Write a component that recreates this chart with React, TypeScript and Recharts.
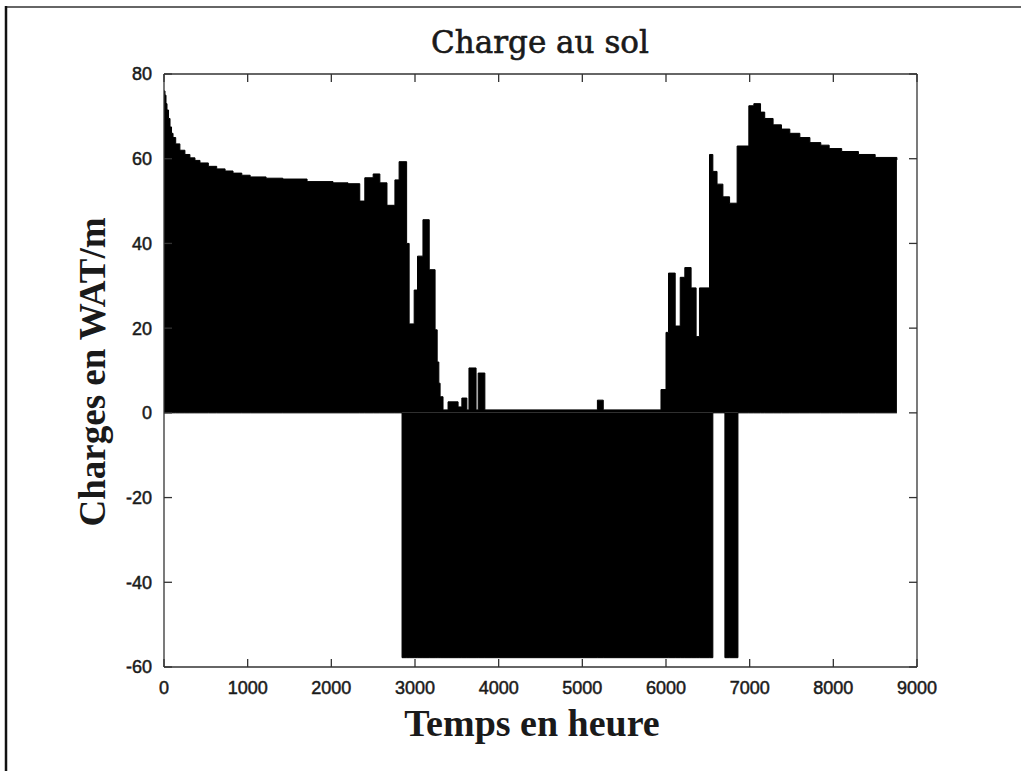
import React from 'react';
import { ComposedChart, Area, XAxis, YAxis } from 'recharts';

// Upper envelope (positive loads) — step breakpoints in hours
const posHours = [
  0, 12, 24, 36, 54, 72, 90, 108, 140, 190, 250, 310, 370, 430, 530, 630, 730, 825, 930, 1030,
  1220, 1420, 1710, 2020, 2200, 2340, 2400, 2500, 2580, 2665, 2760, 2810, 2900, 2930, 2990,
  3030, 3095, 3170, 3240, 3265, 3285, 3300, 3335, 3395, 3515, 3560, 3620, 3645, 3730, 3755,
  3835, 5180, 5250, 5940, 6000, 6030, 6110, 6170, 6225, 6300, 6360, 6400, 6520, 6560, 6610,
  6680, 6760, 6850, 6990, 7050, 7130, 7180, 7280, 7380, 7480, 7600, 7720, 7850, 7950, 8100,
  8300, 8500, 8760,
];
const posLoad = [
  76, 75, 73, 71.5, 69.5, 67.5, 66, 65, 63.5, 62, 61, 60.2, 59.6, 59, 58.2, 57.6, 57.1, 56.6, 56.1, 55.7,
  55.4, 55.2, 54.6, 54.3, 54.1, 50, 55.5, 56.4, 54.3, 49, 55, 59.3, 40, 21, 29,
  37, 45.6, 33.8, 19.6, 12, 7, 3.8, 0.7, 2.6, 1.4, 3.5, 0.7, 10.6, 0.7, 9.4,
  0.7, 3, 0.7, 5.5, 19, 33, 20.5, 32, 34.3, 29.5, 18, 29.5, 61, 57, 54,
  51, 49.5, 63, 72.5, 73, 71, 69.5, 68, 67, 66, 65, 63.8, 63.2, 62.4, 61.7,
  61, 60.3, 59.7,
];

// Lower envelope (negative loads)
const negHours = [0, 2845, 6560, 6704, 6860, 8760];
const negLoad = [0, -57.8, 0, -57.8, 0, 0];

const xTicks = [0, 1000, 2000, 3000, 4000, 5000, 6000, 7000, 8000, 9000];
const yTicks = [-60, -40, -20, 0, 20, 40, 60, 80];

const titleText = 'Charge au sol';
const xLabelText = 'Temps en heure';
const yLabelText = 'Charges en WAT/m';

function stepAt(hours: number[], vals: number[], h: number) {
  let v = vals[0];
  for (let i = 0; i < hours.length; i++) if (hours[i] <= h) v = vals[i];
  return v;
}

const allHours = Array.from(new Set([...posHours, ...negHours])).sort((a, b) => a - b);
const data = allHours.map((h) => ({
  h,
  pos: stepAt(posHours, posLoad, h),
  neg: stepAt(negHours, negLoad, h),
}));

const TICK = 8;
const AX = '#333';
const tickFont = {
  fontFamily: '"Liberation Sans", Arial, sans-serif',
  fontSize: 18,
  fill: '#1a1a1a',
  stroke: '#1a1a1a',
  strokeWidth: 0.5,
};

const BottomTick = (p: any) => (
  <g>
    <line x1={p.x} y1={p.y} x2={p.x} y2={p.y - TICK} stroke={AX} strokeWidth={1.3} />
    <text x={p.x} y={p.y + 27} textAnchor="middle" {...tickFont}>
      {p.payload.value}
    </text>
  </g>
);
const TopTick = (p: any) => (
  <line x1={p.x} y1={p.y} x2={p.x} y2={p.y + TICK} stroke={AX} strokeWidth={1.3} />
);
const LeftTick = (p: any) => (
  <g>
    <line x1={p.x} y1={p.y} x2={p.x + TICK} y2={p.y} stroke={AX} strokeWidth={1.3} />
    <text x={p.x - 12} y={p.y} dy="0.36em" textAnchor="end" {...tickFont}>
      {p.payload.value}
    </text>
  </g>
);
const RightTick = (p: any) => (
  <line x1={p.x} y1={p.y} x2={p.x - TICK} y2={p.y} stroke={AX} strokeWidth={1.3} />
);

export default function App() {
  return (
    <div style={{ position: 'absolute', left: 0, top: 0, width: 1027, height: 771, background: '#fff' }}>
      <ComposedChart
        width={1027}
        height={771}
        data={data}
        margin={{ top: 64, right: 100, bottom: 64, left: 104 }}
      >
        <XAxis
          dataKey="h"
          type="number"
          domain={[0, 9000]}
          ticks={xTicks}
          interval={0}
          height={40}
          tickSize={0}
          tickMargin={0}
          tick={<BottomTick />}
          axisLine={{ stroke: AX, strokeWidth: 1.3 }}
          allowDataOverflow
        />
        <XAxis
          xAxisId="top"
          orientation="top"
          dataKey="h"
          type="number"
          domain={[0, 9000]}
          ticks={xTicks}
          interval={0}
          height={10}
          tickSize={0}
          tickMargin={0}
          tick={<TopTick />}
          axisLine={{ stroke: AX, strokeWidth: 1.3 }}
          allowDataOverflow
        />
        <YAxis
          type="number"
          domain={[-60, 80]}
          ticks={yTicks}
          interval={0}
          width={60}
          tickSize={0}
          tickMargin={0}
          tick={<LeftTick />}
          axisLine={{ stroke: AX, strokeWidth: 1.3 }}
          allowDataOverflow
        />
        <YAxis
          yAxisId="right"
          orientation="right"
          type="number"
          domain={[-60, 80]}
          ticks={yTicks}
          interval={0}
          width={10}
          tickSize={0}
          tickMargin={0}
          tick={<RightTick />}
          axisLine={{ stroke: AX, strokeWidth: 1.3 }}
          allowDataOverflow
        />
        <Area
          dataKey="neg"
          type="stepAfter"
          baseValue={0}
          fill="#000"
          fillOpacity={1}
          stroke="#000"
          strokeWidth={1}
          isAnimationActive={false}
          dot={false}
          activeDot={false}
        />
        <Area
          dataKey="pos"
          type="stepAfter"
          baseValue={0}
          fill="#000"
          fillOpacity={1}
          stroke="#000"
          strokeWidth={1}
          isAnimationActive={false}
          dot={false}
          activeDot={false}
        />
      </ComposedChart>
      <svg
        width={1027}
        height={771}
        style={{ position: 'absolute', left: 0, top: 0, pointerEvents: 'none' }}
      >
        <line x1={6} y1={7} x2={1021} y2={7} stroke="#666" strokeWidth={2} />
        <line x1={6} y1={6} x2={6} y2={771} stroke="#111" strokeWidth={2.5} />
        <text
          x={540}
          y={53}
          textAnchor="middle"
          fontFamily='"DejaVu Serif", serif'
          fontSize={31}
          fill="#1a1a1a"
          stroke="#1a1a1a"
          strokeWidth={0.6}
        >
          {titleText}
        </text>
        <text
          x={532}
          y={736}
          textAnchor="middle"
          fontFamily='"Liberation Serif", "Times New Roman", serif'
          fontWeight="bold"
          fontSize={38}
          fill="#1a1a1a"
        >
          {xLabelText}
        </text>
        <text
          transform="translate(105, 372) rotate(-90)"
          textAnchor="middle"
          fontFamily='"Liberation Serif", "Times New Roman", serif'
          fontWeight="bold"
          fontSize={37}
          fill="#1a1a1a"
        >
          {yLabelText}
        </text>
      </svg>
    </div>
  );
}
